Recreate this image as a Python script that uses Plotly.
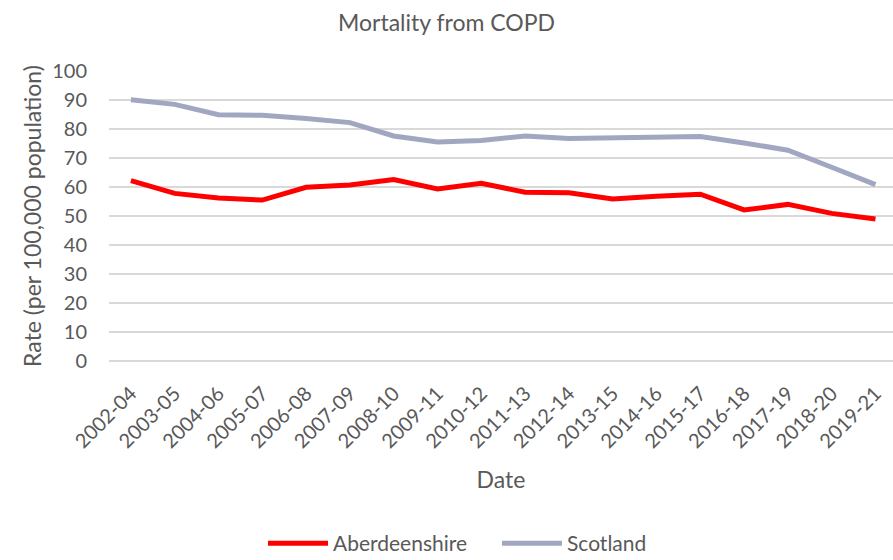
import plotly.graph_objects as go

periods = ["2002-04", "2003-05", "2004-06", "2005-07", "2006-08", "2007-09",
           "2008-10", "2009-11", "2010-12", "2011-13", "2012-14", "2013-15",
           "2014-16", "2015-17", "2016-18", "2017-19", "2018-20", "2019-21"]
aberdeenshire = [62.2, 57.8, 56.2, 55.5, 59.9, 60.7, 62.6, 59.3, 61.3, 58.2,
                 58.0, 55.9, 56.8, 57.5, 52.1, 54.0, 50.9, 49.0]
scotland = [90.1, 88.5, 84.9, 84.7, 83.6, 82.2, 77.6, 75.5, 76.0, 77.6,
            76.7, 76.9, 76.9, 77.4, 75.2, 72.7, 66.8, 60.8]

FONT = "Lato, 'Open Sans', sans-serif"
GREY = "#595959"

fig = go.Figure()
fig.add_trace(go.Scatter(x=periods, y=aberdeenshire, name="Aberdeenshire",
                         mode="lines", line=dict(color="#FF0000", width=5)))
fig.add_trace(go.Scatter(x=periods, y=scotland, name="Scotland",
                         mode="lines", line=dict(color="#A2A7C1", width=5)))

fig.update_layout(
    width=893, height=560,
    margin=dict(l=109, r=0, t=71, b=199, autoexpand=False),
    paper_bgcolor="white", plot_bgcolor="white",
    font=dict(family=FONT, color=GREY),
    title=dict(text="Mortality from COPD", x=0.5, xanchor="center",
               y=1 - 23 / 560, yanchor="middle",
               font=dict(size=23, color=GREY)),
    showlegend=True,
    legend=dict(orientation="h", x=0.1964, xanchor="left", y=-0.7,
                yanchor="bottom", font=dict(size=21, color=GREY),
                entrywidth=159, entrywidthmode="pixels",
                itemwidth=60, tracegroupgap=0),
    xaxis=dict(
        type="category", range=[-0.5, 17.4], automargin=False,
        tickangle=-45, tickfont=dict(size=20, color=GREY),
        showgrid=False, showline=False, ticks="", ticklabelstandoff=16,
        title=dict(text="Date", font=dict(size=23, color=GREY), standoff=20),
    ),
    yaxis=dict(
        range=[0, 100], dtick=10, tickfont=dict(size=20, color=GREY),
        automargin=False,
        showgrid=True, gridcolor="#D9D9D9", gridwidth=1.5,
        zeroline=True, zerolinecolor="#D9D9D9", zerolinewidth=1.5,
        showline=False, ticks="", ticklabelstandoff=21,
        title=dict(text="Rate (per 100,000 population)",
                   font=dict(size=23, color=GREY), standoff=4),
    ),
)

fig.write_html("out.html")
